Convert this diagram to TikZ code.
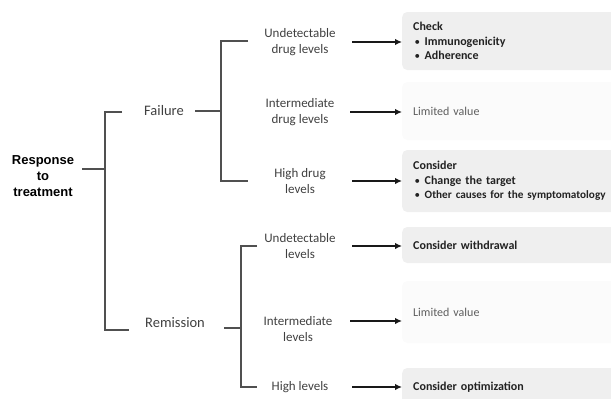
\documentclass[tikz,border=0pt]{standalone}
\usepackage{fontspec}
\setmainfont{Carlito}
\newfontfamily\headfont{Liberation Sans}
\usetikzlibrary{arrows.meta}
\definecolor{treegray}{HTML}{505050}
\definecolor{labelgray}{HTML}{404040}
\definecolor{boxfill}{HTML}{EFEFEF}
\definecolor{faintfill}{HTML}{FBFBFB}
\definecolor{boxtext}{HTML}{222222}
\definecolor{softtext}{HTML}{5E5E5E}
\newcommand{\bulletitem}[1]{\hspace{1.5pt}{\normalfont\fontsize{11}{0}\selectfont•}\hspace{4.5pt}#1}
\tikzset{
  tree/.style={draw=treegray, line width=1.4pt},
  pointer/.style={draw=black!90, line width=1.8pt, -{Latex[length=7pt,width=6.5pt]}},
  level/.style={text=labelgray, align=center, font=\fontsize{13}{16}\selectfont, inner sep=0pt},
  branch/.style={text=labelgray, font=\fontsize{14.5}{17}\selectfont, inner sep=0pt},
  root/.style={align=center, font=\headfont\bfseries\fontsize{13}{16}\selectfont, inner sep=0pt},
  box/.style={fill=boxfill, rounded corners=5pt, anchor=west, minimum width=240pt,
    text width=218pt, align=left, inner xsep=11pt, inner ysep=0pt,
    text=boxtext, font=\bfseries\fontsize{12}{14.5}\selectfont},
  faintbox/.style={box, fill=faintfill, text=softtext, font=\fontsize{12}{14.5}\selectfont}
}
\begin{document}
\begin{tikzpicture}[x=1pt, y=-1pt]
\useasboundingbox (0,0) rectangle (611,399);

% root and first-level branches
\node[root] (resp) at (43,176) {Response\\to\\treatment};
\node[branch] (fail) at (164,111) {Failure};
\node[branch] (remi) at (175,323) {Remission};

% drug level categories
\node[level] (ud) at (300,42) {Undetectable\\drug levels};
\node[level] (id) at (300,112) {Intermediate\\drug levels};
\node[level] (hd) at (300,181) {High drug\\levels};
\node[level] (ul) at (300,246) {Undetectable\\levels};
\node[level] (il) at (298,329) {Intermediate\\levels};
\node[level] (hl) at (300,387) {High levels};

% recommendation boxes
\node[box, minimum height=58pt] (b1) at (402,41)
  {Check\\\bulletitem{Immunogenicity}\\\bulletitem{Adherence}};
\node[faintbox, minimum height=58pt] (b2) at (402,111) {Limited value};
\node[box, minimum height=62pt] (b3) at (402,181)
  {Consider\\\bulletitem{Change the target}\\\bulletitem{{\fontsize{11.2}{14.5}\selectfont Other causes for the symptomatology}}};
\node[box, minimum height=36pt] (b4) at (402,245) {Consider withdrawal};
\node[faintbox, minimum height=62pt] (b5) at (402,312) {\raisebox{-9pt}{Limited value}};
\node[box, minimum height=38pt] (b6) at (402,387) {Consider optimization};

% bracket junctions and line ends
\coordinate (rs) at (82,169);
\coordinate (rj) at (105,169);
\coordinate (fin) at (122,112);
\coordinate (rin) at (129,330);
\coordinate (fs) at (195,111);
\coordinate (fj) at (221,111);
\coordinate (udin) at (248,41);
\coordinate (hdin) at (248,181);
\coordinate (ms) at (224,328);
\coordinate (mj) at (241,328);
\coordinate (ulin) at (257,246);
\coordinate (hlin) at (257,387);

\draw[tree] (rs) -- (rj);
\draw[tree] (fin) -| (rj) |- (rin);
\draw[tree] (fs) -- (fj);
\draw[tree] (udin) -| (fj) |- (hdin);
\draw[tree] (ms) -- (mj);
\draw[tree] (ulin) -| (mj) |- (hlin);

% arrow tails
\coordinate (a1) at (352,42);
\coordinate (a2) at (350,112);
\coordinate (a3) at (352,181);
\coordinate (a4) at (352,246);
\coordinate (a5) at (350,321);
\coordinate (a6) at (352,387);

\draw[pointer] (a1) -- (a1 -| b1.west);
\draw[pointer] (a2) -- (a2 -| b2.west);
\draw[pointer] (a3) -- (a3 -| b3.west);
\draw[pointer] (a4) -- (a4 -| b4.west);
\draw[pointer] (a5) -- (a5 -| b5.west);
\draw[pointer] (a6) -- (a6 -| b6.west);
\end{tikzpicture}
\end{document}
